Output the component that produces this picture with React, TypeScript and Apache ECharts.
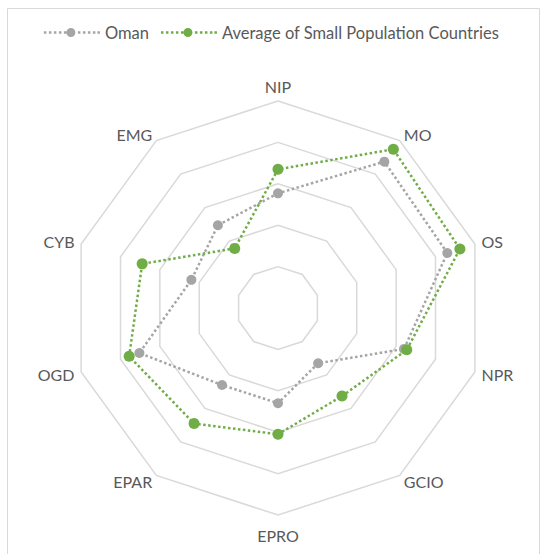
import React, { useEffect, useRef } from "react";
import * as echarts from "echarts";

const categories = ["NIP", "MO", "OS", "NPR", "GCIO", "EPRO", "EPAR", "OGD", "CYB", "EMG"];
const omanValues = [2.77, 4.37, 4.3, 3.2, 1.65, 2.3, 2.3, 3.52, 2.2, 2.47];
const avgValues = [3.35, 4.74, 4.62, 3.27, 2.63, 3.05, 3.45, 3.78, 3.45, 1.78];
const seriesNames = ["Oman", "Average of Small Population Countries"];
const scaleMax = 5;

// ECharts lays indicators out counter-clockwise; reorder so the chart reads clockwise.
const toCCW = <T,>(arr: T[]): T[] => [arr[0], ...arr.slice(1).reverse()];

const legendIcon =
  "path://M0,3h2.5v2.5h-2.5z M5,3h2.5v2.5h-2.5z M10,3h2.5v2.5h-2.5z M15,3h2.5v2.5h-2.5z M20,3h2.5v2.5h-2.5z " +
  "M22.5,4.25a4.5,4.5 0 1,0 9,0a4.5,4.5 0 1,0 -9,0z " +
  "M34,3h2.5v2.5h-2.5z M39,3h2.5v2.5h-2.5z M44,3h2.5v2.5h-2.5z M49,3h2.5v2.5h-2.5z M53.5,3h2.5v2.5h-2.5z";

export default function App() {
  const ref = useRef<HTMLDivElement>(null);
  useEffect(() => {
    document.body.style.margin = "0";
    if (!ref.current) return;
    const chart = echarts.init(ref.current, undefined, { renderer: "svg" });
    const font = "Lato, 'Open Sans', sans-serif";
    const bottomName = categories[Math.floor(categories.length / 2)];
    chart.setOption({
      animation: false,
      textStyle: { fontFamily: font },
      graphic: [
        {
          type: "rect",
          shape: { x: 7.5, y: 8.5, width: 532, height: 552 },
          style: { fill: "none", stroke: "#d9d9d9", lineWidth: 1 },
          silent: true,
        },
      ],
      legend: {
        top: 19,
        left: "center",
        itemWidth: 56,
        itemHeight: 9,
        itemGap: 12,
        icon: legendIcon,
        textStyle: { color: "#595959", fontSize: 16.5, fontFamily: font },
        data: seriesNames,
      },
      radar: {
        center: [278, 308],
        radius: 207,
        shape: "polygon",
        splitNumber: 5,
        nameGap: 7,
        indicator: toCCW(categories).map((c) => ({ name: c, max: scaleMax, min: 0 })),
        axisName: {
          color: "#595959",
          fontSize: 16,
          fontFamily: font,
          formatter: (name: string) => (name === bottomName ? `{down|${name}}` : name),
          rich: {
            down: { color: "#595959", fontSize: 16, fontFamily: font, padding: [5, 0, 0, 0] },
          },
        },
        axisLine: { show: false },
        axisTick: { show: false },
        splitArea: { show: false },
        splitLine: { lineStyle: { color: "#d9d9d9", width: 1.5 } },
      },
      series: [
        {
          type: "radar",
          data: [
            {
              name: seriesNames[0],
              value: toCCW(omanValues),
              symbol: "circle",
              symbolSize: 10,
              itemStyle: { color: "#a5a5a5" },
              lineStyle: { color: "#a5a5a5", width: 2.5, type: "dotted" },
            },
            {
              name: seriesNames[1],
              value: toCCW(avgValues),
              symbol: "circle",
              symbolSize: 11,
              itemStyle: { color: "#70ad47" },
              lineStyle: { color: "#70ad47", width: 2.5, type: "dotted" },
            },
          ],
        },
      ],
      color: ["#a5a5a5", "#70ad47"],
    });
    return () => chart.dispose();
  }, []);
  return <div ref={ref} style={{ width: 543, height: 554 }} />;
}
